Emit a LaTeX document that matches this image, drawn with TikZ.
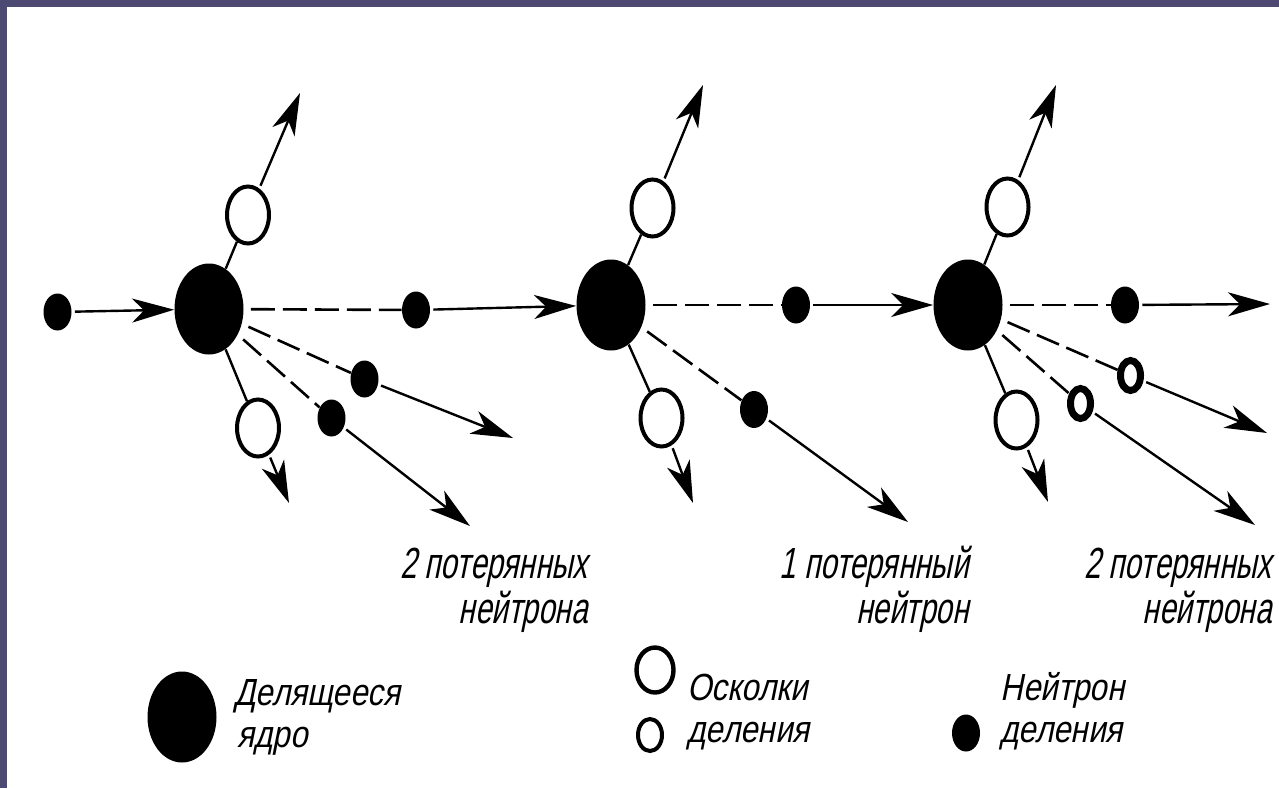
\documentclass[tikz,border=0pt]{standalone}
\usepackage{fontspec}
\newfontfamily\gost{Liberation Sans}[FakeStretch=0.68,FakeSlant=0.2]
\newfontfamily\gostkey{Liberation Sans}[FakeStretch=0.83,FakeSlant=0.2]
\usetikzlibrary{arrows.meta,shapes.geometric}
\definecolor{slideframe}{HTML}{4C4A73}

\begin{document}
\begin{tikzpicture}[x=0.5pt,y=-0.5pt,
  nucleus/.style={ellipse, fill=black, inner sep=0pt, minimum width=34.5pt, minimum height=45.5pt},
  frag/.style={ellipse, draw, line width=2pt, fill=white, inner sep=0pt, minimum width=21pt, minimum height=28.5pt},
  neutron/.style={ellipse, fill=black, inner sep=0pt, minimum width=14pt, minimum height=18.5pt},
  ring/.style={ellipse, draw, line width=3.5pt, inner sep=0pt, minimum width=10pt, minimum height=15pt},
  conn/.style={line width=1.2pt},
  arr/.style={conn, shorten <=1.5pt, -{Stealth[length=21pt,width=12pt,inset=6pt]}},
  lost/.style={line width=1.3pt, dash pattern=on 12pt off 4pt, shorten <=3.5pt},
  lbl/.style={font=\gost\fontsize{21.8}{26}\selectfont, inner sep=0pt},
  keylbl/.style={font=\gostkey\fontsize{18.9}{22}\selectfont, inner sep=0pt}]

% page with the slide frame on the top and left edges
\useasboundingbox (0,0) rectangle (1279,788);
\fill[slideframe] (0,0) rectangle (1279,788);
\fill[white] (7,7) rectangle (1279,788);

% ---------- first fission ----------
\node[neutron] (n0) at (57.5,312) {};
\node[nucleus] (N1) at (209,309) {};
\node[frag] (f1u) at (248,215) {};
\node[frag] (f1d) at (258,428) {};
\node[neutron] (n1) at (416,310) {};
\node[neutron] (n1a) at (364.5,379) {};
\node[neutron] (n1b) at (331.5,418) {};
\coordinate (t1u) at (300,93);
\coordinate (t1d) at (289,503);
\coordinate (t1a) at (513,438);
\coordinate (t1b) at (470,526);

\draw[arr] (n0) -- (N1);
\draw[conn] (N1) -- (f1u);
\draw[arr] (f1u) -- (t1u);
\draw[conn] (N1) -- (f1d);
\draw[arr] (f1d) -- (t1d);
\draw[lost] (N1) -- (n1);
\draw[lost] (N1) -- (n1a);
\draw[arr] (n1a) -- (t1a);
\draw[lost] (N1) -- (n1b);
\draw[arr] (n1b) -- (t1b);

% ---------- second fission ----------
\node[nucleus] (N2) at (611,305) {};
\node[frag] (f2u) at (652.5,208) {};
\node[frag] (f2d) at (661.5,418) {};
\node[neutron] (n2) at (796,305) {};
\node[neutron] (n2a) at (754,409.5) {};
\coordinate (t2u) at (703,85);
\coordinate (t2d) at (693,503);
\coordinate (t2a) at (908,522);

\draw[arr] (n1) -- (N2);
\draw[conn] (N2) -- (f2u);
\draw[arr] (f2u) -- (t2u);
\draw[conn] (N2) -- (f2d);
\draw[arr] (f2d) -- (t2d);
\draw[lost] (N2) -- (n2);
\draw[lost] (N2) -- (n2a);
\draw[arr] (n2a) -- (t2a);

% ---------- third fission ----------
\node[nucleus] (N3) at (968,305) {};
\node[frag] (f3u) at (1007.5,207) {};
\node[frag] (f3d) at (1016.5,420) {};
\node[neutron] (n3) at (1125,305) {};
\node[ring] (r3a) at (1130.5,375.5) {};
\node[ring] (r3b) at (1080.5,403.5) {};
\coordinate (t3u) at (1056,85);
\coordinate (t3d) at (1048,502);
\coordinate (t3n) at (1270,304);
\coordinate (t3a) at (1267,433);
\coordinate (t3b) at (1255,525);

\draw[arr] (n2) -- (N3);
\draw[conn] (N3) -- (f3u);
\draw[arr] (f3u) -- (t3u);
\draw[conn] (N3) -- (f3d);
\draw[arr] (f3d) -- (t3d);
\draw[lost] (N3) -- (n3);
\draw[arr] (n3) -- (t3n);
\draw[lost] (N3) -- (r3a);
\draw[arr] (r3a) -- (t3a);
\draw[lost] (N3) -- (r3b);
\draw[arr] (r3b) -- (t3b);

% ---------- lost-neutron captions ----------
\node[lbl, anchor=base east] (c1a) at (588,578) {2 потерянных};
\node[lbl, anchor=base east] (c1b) at (588,623) {нейтрона};
\node[lbl, anchor=base east] (c2a) at (969,578) {1 потерянный};
\node[lbl, anchor=base east] (c2b) at (969,623) {нейтрон};
\node[lbl, anchor=base east] (c3a) at (1272,578) {2 потерянных};
\node[lbl, anchor=base east] (c3b) at (1272,623) {нейтрона};

% ---------- legend ----------
\node[nucleus] (k1) at (182,717) {};
\node[keylbl, anchor=base west] (k1a) at (234,705) {Делящееся};
\node[keylbl, anchor=base west] (k1b) at (237,747) {ядро};

\node[ellipse, draw, line width=2.2pt, inner sep=0pt, minimum width=18.5pt, minimum height=22.5pt] (k2) at (655,670) {};
\node[ellipse, draw, line width=2pt, inner sep=0pt, minimum width=12pt, minimum height=16pt] (k3) at (650,735) {};
\node[keylbl, anchor=base west] (k2a) at (687,700) {Осколки};
\node[keylbl, anchor=base west] (k2b) at (687,742) {деления};

\node[neutron] (k4) at (966,733) {};
\node[keylbl, anchor=base west] (k4a) at (1000,700) {Нейтрон};
\node[keylbl, anchor=base west] (k4b) at (1000,742) {деления};
\end{tikzpicture}
\end{document}
